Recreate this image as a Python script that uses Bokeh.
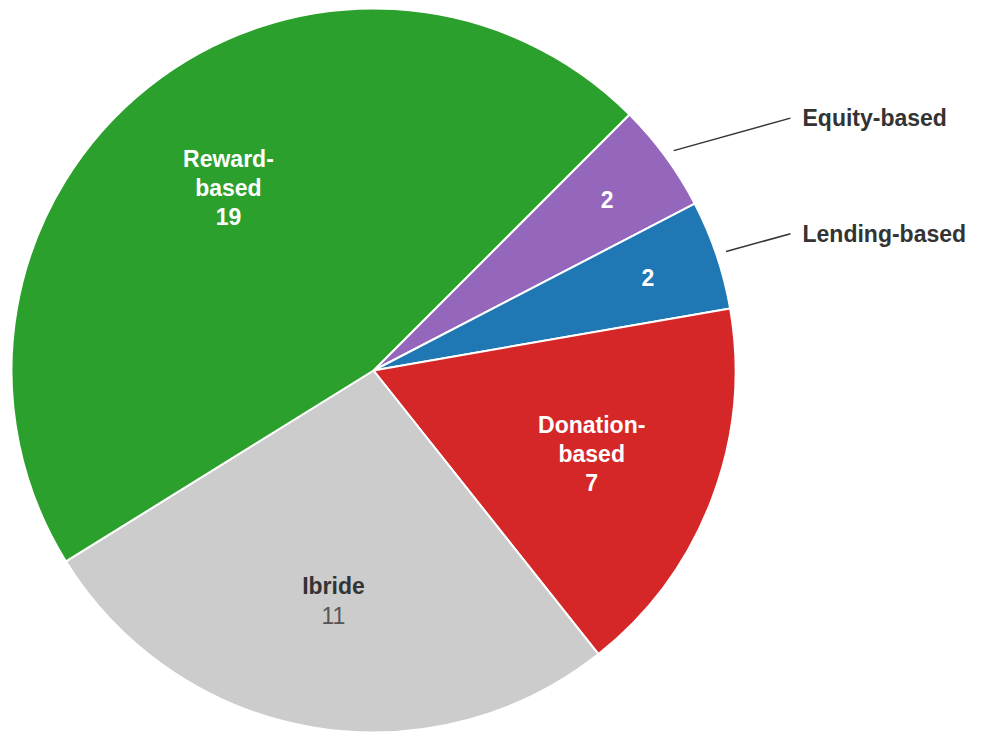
import math
from bokeh.plotting import figure
from bokeh.models import ColumnDataSource, Range1d
from bokeh.core.properties import value
from bokeh.embed import file_html
from bokeh.resources import INLINE

# ---- data ----
categories = ["Equity-based", "Lending-based", "Donation-based", "Ibride", "Reward-based"]
values = [2, 2, 7, 11, 19]
colors = ["#9467bd", "#1f77b4", "#d62728", "#cccccc", "#2ca02c"]
inner_names = [[], [], ["Donation-", "based"], ["Ibride"], ["Reward-", "based"]]
outside = [True, True, False, False, False]

# ---- layout ----
W, H = 982, 734
cx, cy, R = 373, 364, 362
start_deg = 45.0
FONT = "Liberation Sans"
FS = 23
LH = 29

p = figure(width=W, height=H, output_backend="svg", toolbar_location=None,
           x_range=Range1d(0, W), y_range=Range1d(0, H), min_border=0)
p.axis.visible = False
p.grid.visible = False
p.outline_line_color = None
p.background_fill_color = "white"

total = sum(values)
starts, ends, mids = [], [], []
cum = 0
for v in values:
    a0 = math.radians(start_deg - cum / total * 360)
    cum += v
    a1 = math.radians(start_deg - cum / total * 360)
    starts.append(a0)
    ends.append(a1)
    mids.append((a0 + a1) / 2)

src = ColumnDataSource(dict(x=[cx] * len(values), y=[cy] * len(values),
                            start=starts, end=ends, color=colors))
p.wedge(x="x", y="y", radius=R, start_angle="start", end_angle="end",
        direction="clock", fill_color="color", line_color="white", line_width=2,
        source=src)

# inner labels
lx, ly, lt, lc, ls = [], [], [], [], []
for i, v in enumerate(values):
    small = v / total < 0.1
    rf = 0.8 if small else 0.645
    px = cx + rf * R * math.cos(mids[i])
    py = cy + rf * R * math.sin(mids[i])
    lines = list(inner_names[i]) + [str(v)]
    n = len(lines)
    dark = colors[i] == "#cccccc"
    for j, t in enumerate(lines):
        lx.append(px)
        ly.append(py + (n - 1) / 2 * LH - j * LH)
        lt.append(t)
        is_value = j == n - 1
        if dark:
            lc.append("#555555" if is_value else "#333333")
            ls.append("normal" if is_value else "bold")
        else:
            lc.append("white")
            ls.append("bold")

lsrc = ColumnDataSource(dict(x=lx, y=ly, text=lt, color=lc, style=ls))
p.text(x="x", y="y", text="text", text_color="color", text_font_style="style",
       text_font=value(FONT), text_font_size=f"{FS}px", text_align="center",
       text_baseline="middle", source=lsrc)

# outside labels with leader lines
ox0, oy0, ox1, oy1, otx, oty, ot = [], [], [], [], [], [], []
for i, v in enumerate(values):
    if not outside[i]:
        continue
    sx = cx + 1.028 * R * math.cos(mids[i])
    sy = cy + 1.028 * R * math.sin(mids[i])
    ey = cy + 1.18 * R * math.sin(mids[i])
    ex = cx + 417
    ox0.append(sx); oy0.append(sy); ox1.append(ex); oy1.append(ey)
    otx.append(ex + 12); oty.append(ey); ot.append(categories[i])

p.segment(x0=ox0, y0=oy0, x1=ox1, y1=oy1, line_color="#333333", line_width=1.5)
p.text(x=otx, y=oty, text=ot, text_color="#333333", text_font_style="bold",
       text_font=value(FONT), text_font_size=f"{FS}px", text_align="left",
       text_baseline="middle")

open("out.html", "w").write(file_html(p, INLINE))
